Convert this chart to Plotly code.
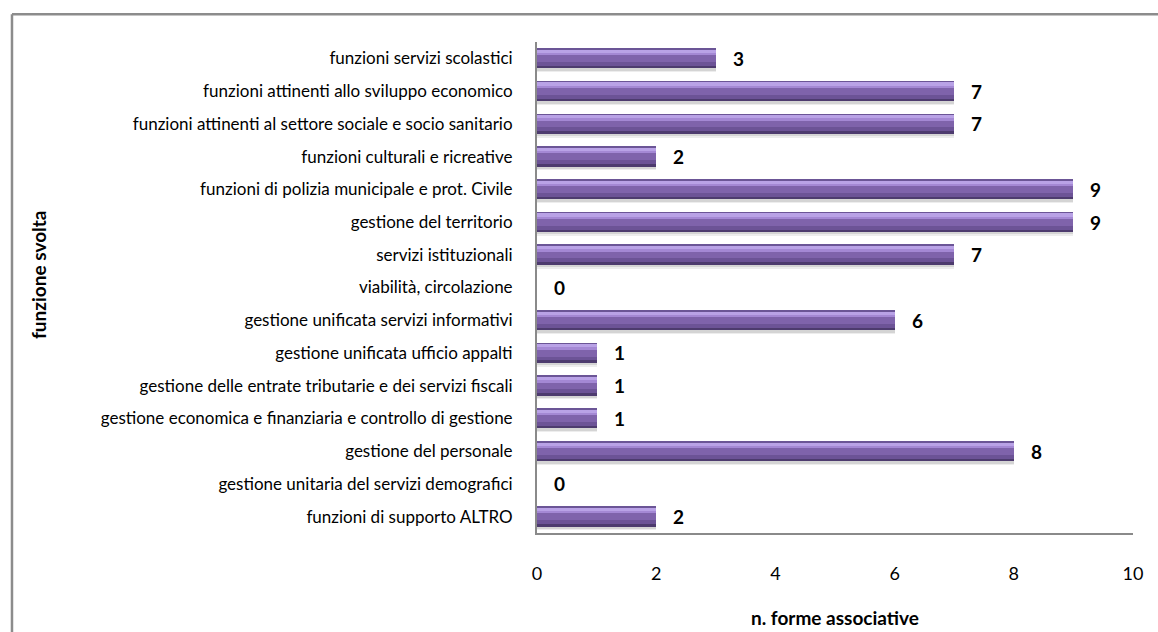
import plotly.graph_objects as go

# Functions performed, listed top to bottom, and the number of associations for each
funzioni = [
    "funzioni servizi scolastici",
    "funzioni attinenti allo sviluppo economico",
    "funzioni attinenti al settore sociale e socio sanitario",
    "funzioni culturali e ricreative",
    "funzioni di polizia municipale e prot. Civile",
    "gestione del territorio",
    "servizi istituzionali",
    "viabilità, circolazione",
    "gestione unificata servizi informativi",
    "gestione unificata ufficio appalti",
    "gestione delle entrate tributarie e dei servizi fiscali",
    "gestione economica e finanziaria e controllo di gestione",
    "gestione del personale",
    "gestione unitaria del servizi demografici",
    "funzioni di supporto ALTRO",
]
forme_associative = [3, 7, 7, 2, 9, 9, 7, 0, 6, 1, 1, 1, 8, 0, 2]
x_ticks = [0, 2, 4, 6, 8, 10]

FONT = "Lato, Carlito, Calibri, sans-serif"
BAR_W = 0.6  # bar thickness in category units

fig = go.Figure()

# soft drop shadow under each bar
for shift, alpha in [(0.12, 0.07), (0.08, 0.10)]:
    fig.add_trace(go.Bar(
        x=forme_associative, y=funzioni, orientation="h",
        width=BAR_W, offset=-BAR_W / 2 + shift,
        marker=dict(color=f"rgba(0,0,0,{alpha})", line=dict(width=0)),
        hoverinfo="skip", showlegend=False,
    ))

# horizontal strips (top to bottom) giving the bars their shaded, rounded look
strips = [
    (0.00, 0.06, "#6b5596"),
    (0.06, 0.22, "#b9a2e6"),
    (0.22, 0.34, "#a488d4"),
    (0.34, 0.68, "#7f63ab"),
    (0.68, 0.88, "#6c5396"),
    (0.88, 1.00, "#4d3b6e"),
]
for start, end, col in strips:
    fig.add_trace(go.Bar(
        x=forme_associative, y=funzioni, orientation="h",
        width=(end - start) * BAR_W + 0.004,
        offset=-BAR_W / 2 + start * BAR_W,
        marker=dict(color=col, line=dict(width=0)),
        hoverinfo="skip", showlegend=False,
    ))

# value labels just past the end of each bar
for f, v in zip(funzioni, forme_associative):
    fig.add_annotation(
        x=v, y=f, text=f"<b>{v}</b>", showarrow=False,
        xanchor="left", yanchor="middle", xshift=15,
        font=dict(family=FONT, size=19, color="#000000"),
    )

# axis titles
fig.add_annotation(
    x=0.5, y=-0.1711, xref="paper", yref="paper",
    xanchor="center", yanchor="middle",
    text="<b>n. forme associative</b>", showarrow=False,
    font=dict(family=FONT, size=19, color="#000000"),
)
fig.add_annotation(
    x=-0.8356, y=0.5255, xref="paper", yref="paper",
    xanchor="center", yanchor="middle",
    text="<b>funzione svolta</b>", showarrow=False, textangle=-90,
    font=dict(family=FONT, size=19, color="#000000"),
)

# chart frame (top and left edges)
frame = dict(type="line", xref="paper", yref="paper",
             line=dict(color="#8c8c8c", width=2.5))
fig.add_shape(x0=-0.8809, x1=1.06, y0=1.0564, y1=1.0564, **frame)
fig.add_shape(x0=-0.8809, x1=-0.8809, y0=1.0564, y1=-0.22, **frame)

fig.update_layout(
    width=1158, height=632,
    margin=dict(l=537, r=25, t=42, b=99),
    paper_bgcolor="#ffffff", plot_bgcolor="#ffffff",
    barmode="overlay", bargap=0,
    font=dict(family=FONT, color="#000000"),
    xaxis=dict(
        range=[0, 10], tickvals=x_ticks, showgrid=False, zeroline=False,
        showline=True, linecolor="#8a8a8a", linewidth=2,
        ticks="", ticklabelstandoff=23,
        tickfont=dict(family=FONT, size=18, color="#000000"),
        fixedrange=True,
    ),
    yaxis=dict(
        categoryorder="array", categoryarray=funzioni, autorange="reversed",
        showgrid=False, zeroline=False,
        showline=True, linecolor="#8a8a8a", linewidth=2,
        ticks="", ticklabelstandoff=19,
        tickfont=dict(family=FONT, size=17, color="#000000"),
        fixedrange=True,
    ),
)

fig.write_html("out.html")
